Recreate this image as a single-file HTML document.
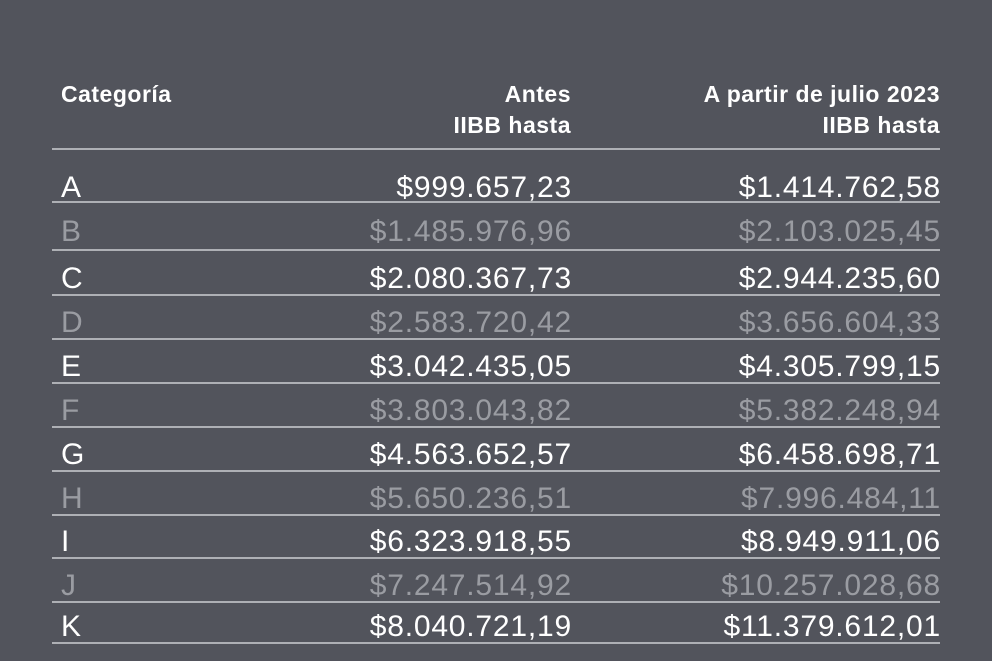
<!DOCTYPE html>
<html><head><style>
body{margin:0;width:992px;height:661px;background:#52545c;font-family:"Liberation Sans",sans-serif;overflow:hidden;position:relative}
.t{position:absolute;white-space:nowrap}
.h{font-weight:bold;font-size:23px;color:#fff;letter-spacing:0.5px}
.r{text-align:right}
.ln{position:absolute;left:52px;width:888px;height:2px;background:#aeb0b5}
.v{font-size:30px;color:#fff;letter-spacing:0.8px}
.g{color:#9a9ca2}
</style></head><body>
<div class="t h" style="left:61px;top:81px">Categoría</div>
<div class="t h r" style="right:421px;top:81px">Antes</div>
<div class="t h r" style="right:421px;top:112px">IIBB hasta</div>
<div class="t h r" style="right:52px;top:81px">A partir de julio 2023</div>
<div class="t h r" style="right:52px;top:112px">IIBB hasta</div>
<div class="ln" style="top:148px"></div>
<div id="rows"></div>
<script>
var d=[["A","$999.657,23","$1.414.762,58"],["B","$1.485.976,96","$2.103.025,45"],["C","$2.080.367,73","$2.944.235,60"],["D","$2.583.720,42","$3.656.604,33"],["E","$3.042.435,05","$4.305.799,15"],["F","$3.803.043,82","$5.382.248,94"],["G","$4.563.652,57","$6.458.698,71"],["H","$5.650.236,51","$7.996.484,11"],["I","$6.323.918,55","$8.949.911,06"],["J","$7.247.514,92","$10.257.028,68"],["K","$8.040.721,19","$11.379.612,01"]];
var lines=[202,250,295,339,383,427,471,515,558,602,643];
var h="";
for(var i=0;i<11;i++){
 var c=lines[i]-(i==0?31:(i==1?35:33)); var cls="t v"+(i%2?" g":"");
 h+='<div class="'+cls+'" style="left:61px;top:'+c+'px">'+d[i][0]+'</div>';
 h+='<div class="'+cls+' r" style="right:420px;top:'+c+'px">'+d[i][1]+'</div>';
 h+='<div class="'+cls+' r" style="right:51px;top:'+c+'px">'+d[i][2]+'</div>';
 h+='<div class="ln" style="top:'+(lines[i]-1)+'px"></div>';
}
document.getElementById("rows").innerHTML=h;
</script>
</body></html>
